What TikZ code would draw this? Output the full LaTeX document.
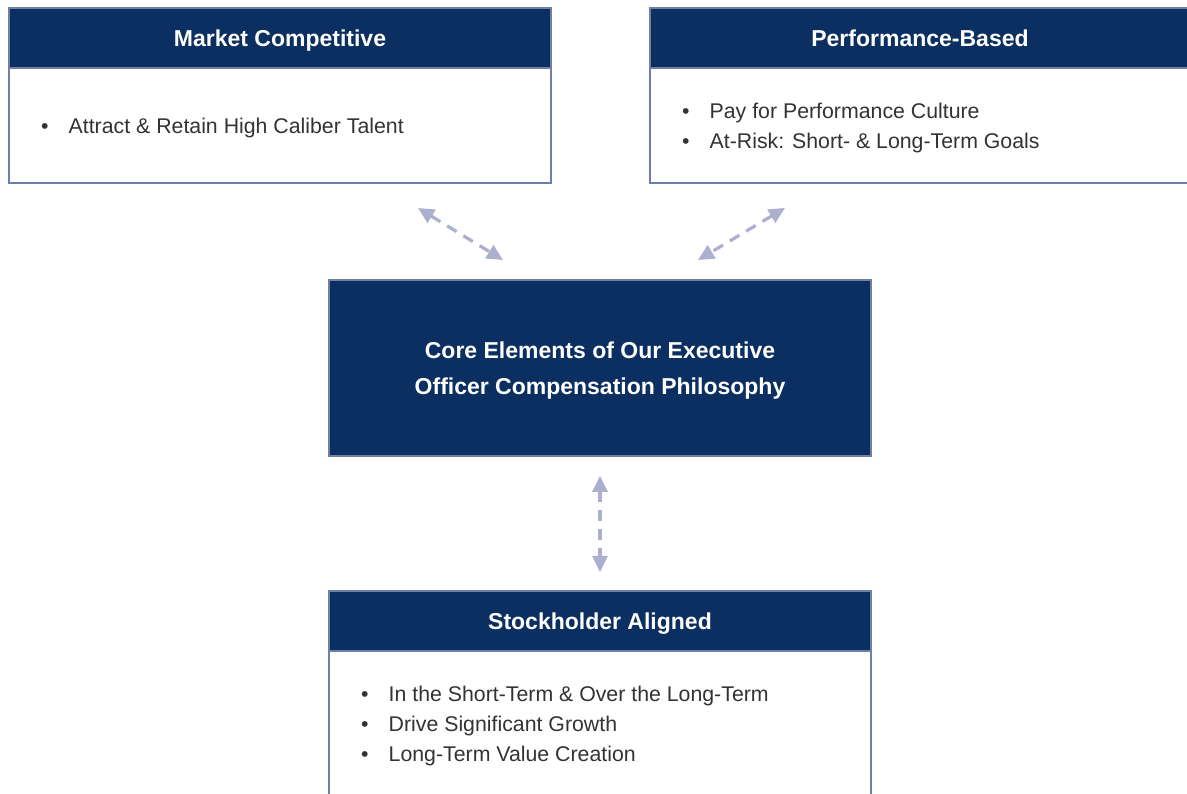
\documentclass[tikz,border=0pt]{standalone}
\usepackage{fontspec}
\setmainfont{Liberation Sans}
\usetikzlibrary{positioning,arrows.meta}
\definecolor{navy}{RGB}{11,47,97}
\definecolor{frame}{RGB}{110,128,165}
\definecolor{link}{RGB}{172,176,206}
\newcommand{\bul}{\makebox[27.5pt][l]{\textbullet}}
\tikzset{
  head/.style={draw=frame, line width=1.2pt, fill=navy, text=white,
    font=\fontsize{23}{27}\selectfont\bfseries, inner sep=0pt,
    minimum height=60pt, text height=16.5pt, text depth=0pt},
  body/.style={draw=frame, line width=1.2pt, fill=white, inner sep=0pt},
  items/.style={anchor=west, align=left, inner sep=0pt, text=black!80,
    font=\fontsize{21.3}{29.5}\selectfont},
  link/.style={draw=link, line width=3.2pt, dash pattern=on 11pt off 8pt,
    {Triangle[length=16pt,width=15pt]}-{Triangle[length=16pt,width=15pt]}}
}
\begin{document}
\begin{tikzpicture}[x=1pt,y=1pt]
\useasboundingbox (0,0) rectangle (1187,794);
\fill[white] (0,0) rectangle (1187,794);
% Market competitive
\node[body, minimum width=542pt, minimum height=115pt] (mktbody) at (280,668.5) {};
\node[head, minimum width=542pt] (mkt) at (280,756) {Market Competitive};
\node[items] (mktlist) at (41,666) {\bul Attract \& Retain High Caliber Talent};
% Performance based
\node[body, minimum width=545pt, minimum height=115pt] (perfbody) at (922.5,668.5) {};
\node[head, minimum width=545pt] (perf) at (922.5,756) {\hspace*{-5pt}Performance-Based};
\node[items] (perflist) at (682,666) {\bul Pay for Performance Culture\\ \bul At-Risk: Short- \& Long-Term Goals};
% Core
\node[head, minimum width=542pt, minimum height=176pt, align=center,
  font=\fontsize{23}{36}\selectfont\bfseries, text height=52.5pt] (core) at (600,426)
  {Core Elements of Our Executive\\ Officer Compensation Philosophy};
% Stockholder aligned
\node[body, minimum width=542pt, minimum height=163pt] (stockbody) at (600,61.5) {};
\node[head, minimum width=542pt] (stock) at (600,173) {Stockholder Aligned};
\node[items] (stocklist) at (361,68) {\bul In the Short-Term \& Over the Long-Term\\ \bul Drive Significant Growth\\ \bul Long-Term Value Creation};
% Links
\coordinate (mktend) at (418,586);
\coordinate (coreleft) at (503,534);
\coordinate (perfend) at (785,586);
\coordinate (coreright) at (698,534);
\coordinate (corelow) at (600,318);
\coordinate (stocktop) at (600,222);
\draw[link] (mktend) -- (coreleft);
\draw[link] (perfend) -- (coreright);
\draw[link] (corelow) -- (stocktop);
\end{tikzpicture}
\end{document}
